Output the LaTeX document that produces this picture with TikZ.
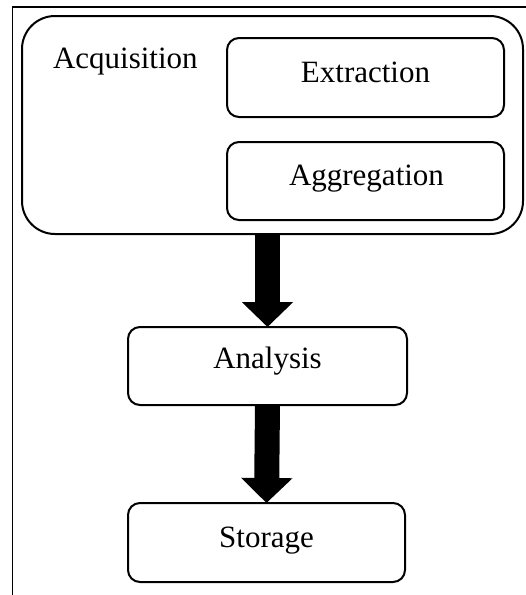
\documentclass[tikz,border=0pt]{standalone}
\usepackage{fontspec}
\setmainfont{Liberation Serif}
\usetikzlibrary{arrows.meta}
\begin{document}
\begin{tikzpicture}[x=1pt,y=-1pt,
  box/.style={draw=black, line width=2pt, inner sep=0pt, outer sep=0pt},
  txt/.style={inner sep=0pt, outer sep=0pt, anchor=base, font=\fontsize{31}{37}\selectfont},
  blockarrow/.style={draw=black, line width=25pt, line cap=butt,
    -{Triangle[width=50pt,length=25pt]}},
  framestyle/.style={draw=black, line width=1.2pt}]
\useasboundingbox (0,0) rectangle (526,595);
% outer frame (top and left only)
\draw[framestyle] (526,7) -- (12.5,7) -- (12.5,595);
% boxes
\node[box, rounded corners=33pt, minimum width=501pt, minimum height=218pt] (acq) at (272.5,125) {};
\node[box, rounded corners=12pt, minimum width=277pt, minimum height=79pt] (ext) at (365.5,77.5) {};
\node[box, rounded corners=12pt, minimum width=277pt, minimum height=78pt] (agg) at (365.5,181) {};
\node[box, rounded corners=12pt, minimum width=279pt, minimum height=78pt] (ana) at (267.5,366) {};
\node[box, rounded corners=12pt, minimum width=277pt, minimum height=79pt] (sto) at (266.5,542.5) {};
% texts
\node[txt, anchor=base west] (acqt) at (53,68) {Acquisition};
\node[txt] (extt) at (365.5,82) {Extraction};
\node[txt] (aggt) at (366.5,185) {Aggregation};
\node[txt] (anat) at (267.5,368) {Analysis};
\node[txt] (stot) at (266.5,547) {Storage};
% arrows
\draw[blockarrow] (ana.north |- acq.south) -- (ana.north);
\draw[blockarrow] (ana.south) -- (sto.north);
\end{tikzpicture}
\end{document}
